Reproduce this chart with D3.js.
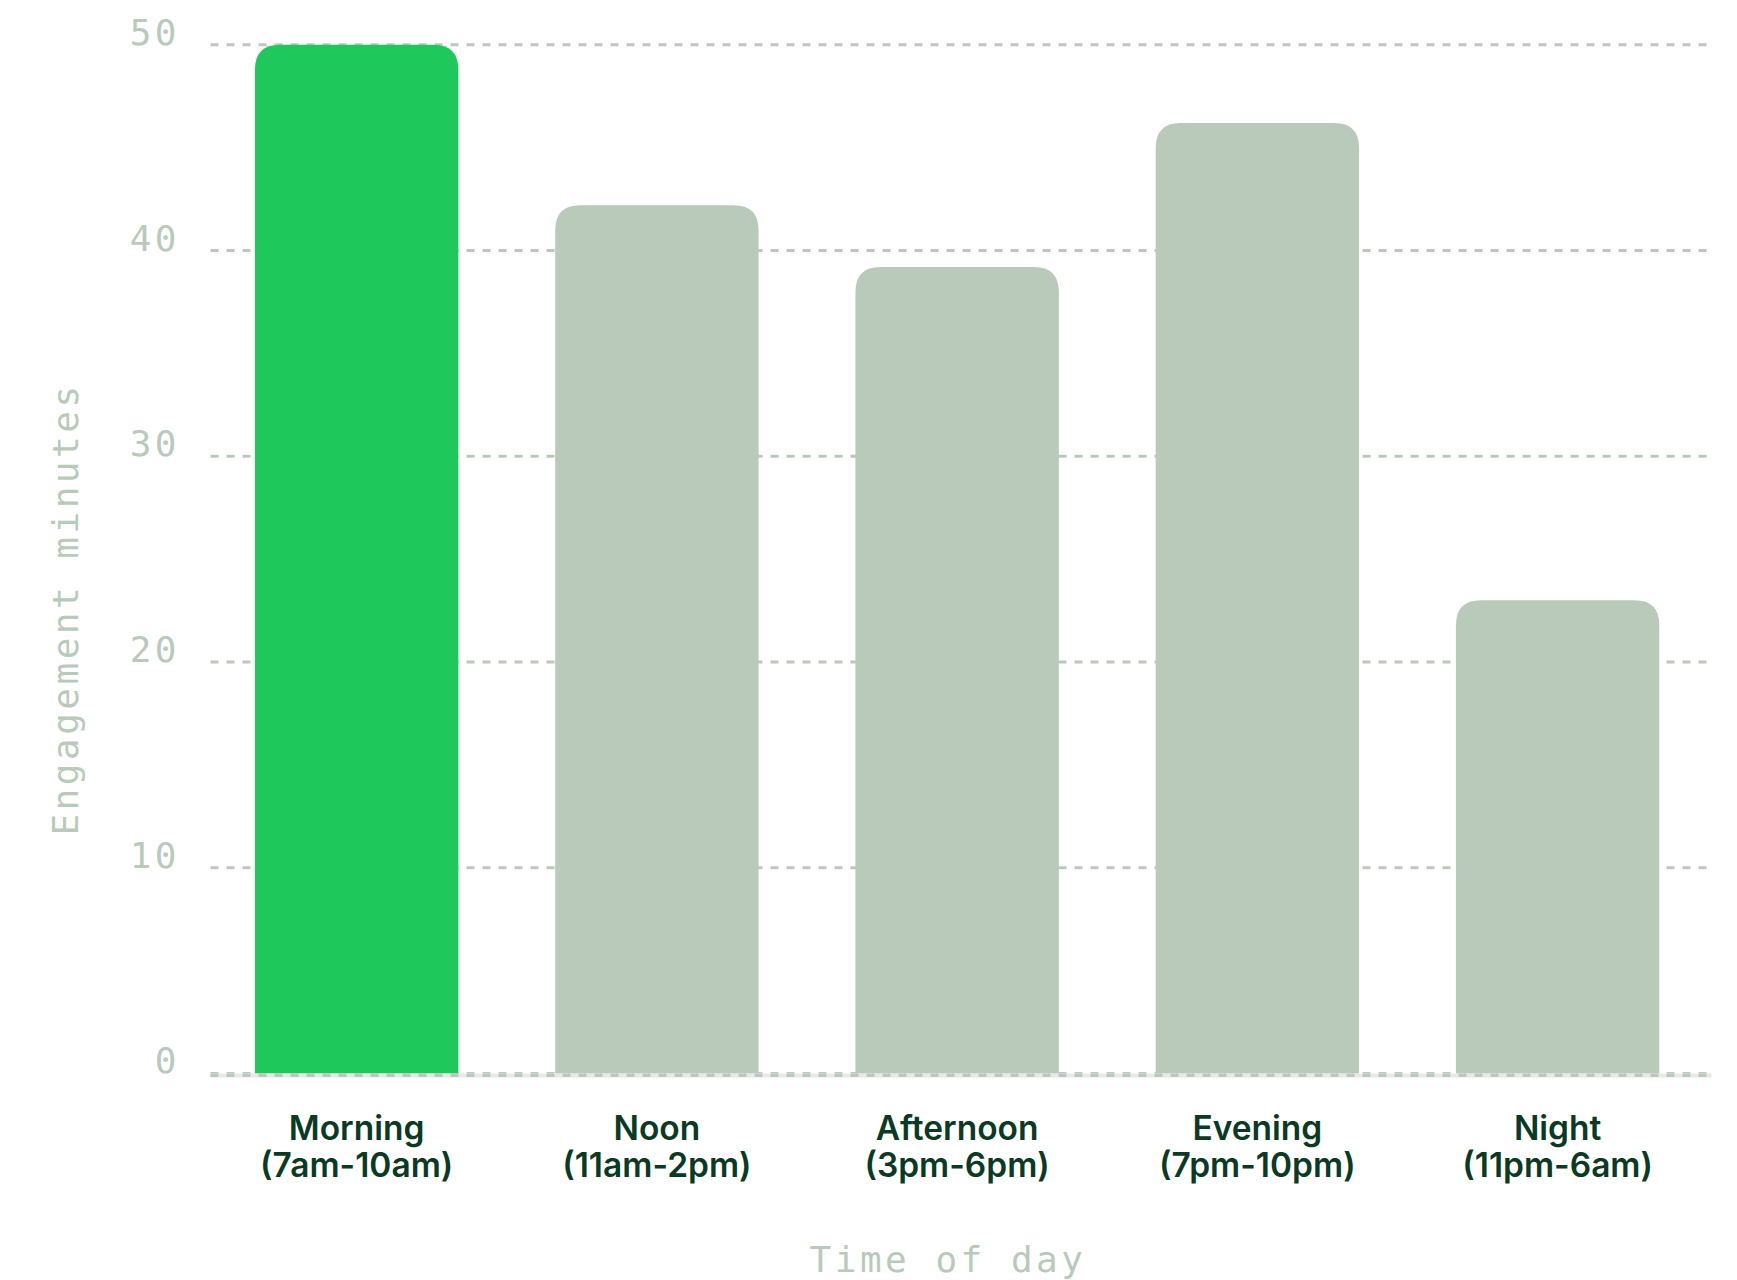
<!DOCTYPE html>
<html>
<head>
<meta charset="utf-8">
<script src="https://cdn.jsdelivr.net/npm/d3@7"></script>
<style>
  html, body { margin: 0; padding: 0; background: #ffffff; }
  svg { display: block; }
</style>
</head>
<body>
<div id="chart"></div>
<script>
// Data
const periods = ["Morning", "Noon", "Afternoon", "Evening", "Night"];
const periodHours = ["(7am-10am)", "(11am-2pm)", "(3pm-6pm)", "(7pm-10pm)", "(11pm-6am)"];
const minutes = [50, 42.2, 39.2, 46.2, 23];
const yTicks = [0, 10, 20, 30, 40, 50];
const highlighted = "Morning";

const width = 1737;
const height = 1280;

const gridColor = "#b9cabb";
const barColor = "#b9cabb";
const accentColor = "#1fc85b";
const labelColor = "#0b3a24";
const monoFont = "'DejaVu Sans Mono', monospace";

const gridLeft = 210.5;
const gridRight = 1711.5;

const svg = d3
  .select("#chart")
  .append("svg")
  .attr("width", width)
  .attr("height", height);

// Scales
const step = 300.25;
const padIn = 0.3226;
const padOut = 0.148;
const x = d3
  .scaleBand()
  .domain(periods)
  .range([gridLeft, gridLeft + step * (periods.length - padIn + 2 * padOut)])
  .paddingInner(padIn)
  .paddingOuter(padOut);

const y = d3.scaleLinear().domain([0, 50]).range([1073.4, 44.8]);

// Dashed grid lines
svg
  .append("g")
  .selectAll("line")
  .data(yTicks)
  .enter()
  .append("line")
  .attr("x1", gridLeft)
  .attr("x2", gridRight)
  .attr("y1", (d) => y(d))
  .attr("y2", (d) => y(d))
  .attr("stroke", gridColor)
  .attr("stroke-width", 3)
  .attr("stroke-dasharray", "8,8");

// Tick labels (baseline sits on the grid line)
svg
  .append("g")
  .selectAll("text")
  .data(yTicks)
  .enter()
  .append("text")
  .attr("x", 180)
  .attr("y", (d) => y(d))
  .attr("text-anchor", "end")
  .attr("font-family", monoFont)
  .attr("font-size", 36)
  .attr("letter-spacing", 3.5)
  .attr("fill", gridColor)
  .text((d) => d);

// Bars with rounded top corners
function topRoundedBar(x0, y0, w, h, r) {
  r = Math.min(r, w / 2, h);
  return (
    `M${x0},${y0 + h}` +
    `V${y0 + r}` +
    `Q${x0},${y0} ${x0 + r},${y0}` +
    `H${x0 + w - r}` +
    `Q${x0 + w},${y0} ${x0 + w},${y0 + r}` +
    `V${y0 + h}Z`
  );
}

svg
  .append("g")
  .selectAll("path")
  .data(periods)
  .enter()
  .append("path")
  .attr("d", (d, i) =>
    topRoundedBar(x(d), y(minutes[i]), x.bandwidth(), y(0) - y(minutes[i]), 25)
  )
  .attr("fill", (d) => (d === highlighted ? accentColor : barColor));

// Baseline: light solid line with the dashed grid over it
const base = svg.append("g");
base
  .append("line")
  .attr("x1", gridLeft)
  .attr("x2", gridRight)
  .attr("y1", y(0) + 2)
  .attr("y2", y(0) + 2)
  .attr("stroke", "#e8e8e8")
  .attr("stroke-width", 4);
base
  .append("line")
  .attr("x1", gridLeft)
  .attr("x2", gridRight)
  .attr("y1", y(0) + 2)
  .attr("y2", y(0) + 2)
  .attr("stroke", gridColor)
  .attr("stroke-width", 3)
  .attr("stroke-dasharray", "8,8");

// Category labels, two lines each
const cat = svg
  .append("g")
  .selectAll("text")
  .data(periods)
  .enter()
  .append("text")
  .attr("text-anchor", "middle")
  .attr("font-family", "Inter, 'Noto Sans', sans-serif")
  .attr("font-weight", 600)
  .attr("font-size", 33.5)
  .attr("fill", labelColor);

cat
  .append("tspan")
  .attr("x", (d) => x(d) + x.bandwidth() / 2)
  .attr("y", 1140)
  .text((d) => d);

cat
  .append("tspan")
  .attr("x", (d) => x(d) + x.bandwidth() / 2)
  .attr("y", 1177)
  .text((d, i) => periodHours[i]);

// Axis titles
svg
  .append("text")
  .attr("x", 948)
  .attr("y", 1272)
  .attr("text-anchor", "middle")
  .attr("font-family", monoFont)
  .attr("font-size", 36)
  .attr("letter-spacing", 3.5)
  .attr("fill", gridColor)
  .text("Time of day");

svg
  .append("text")
  .attr("transform", "translate(78,609) rotate(-90)")
  .attr("text-anchor", "middle")
  .attr("font-family", monoFont)
  .attr("font-size", 36)
  .attr("letter-spacing", 3.5)
  .attr("fill", gridColor)
  .text("Engagement minutes");
</script>
</body>
</html>
